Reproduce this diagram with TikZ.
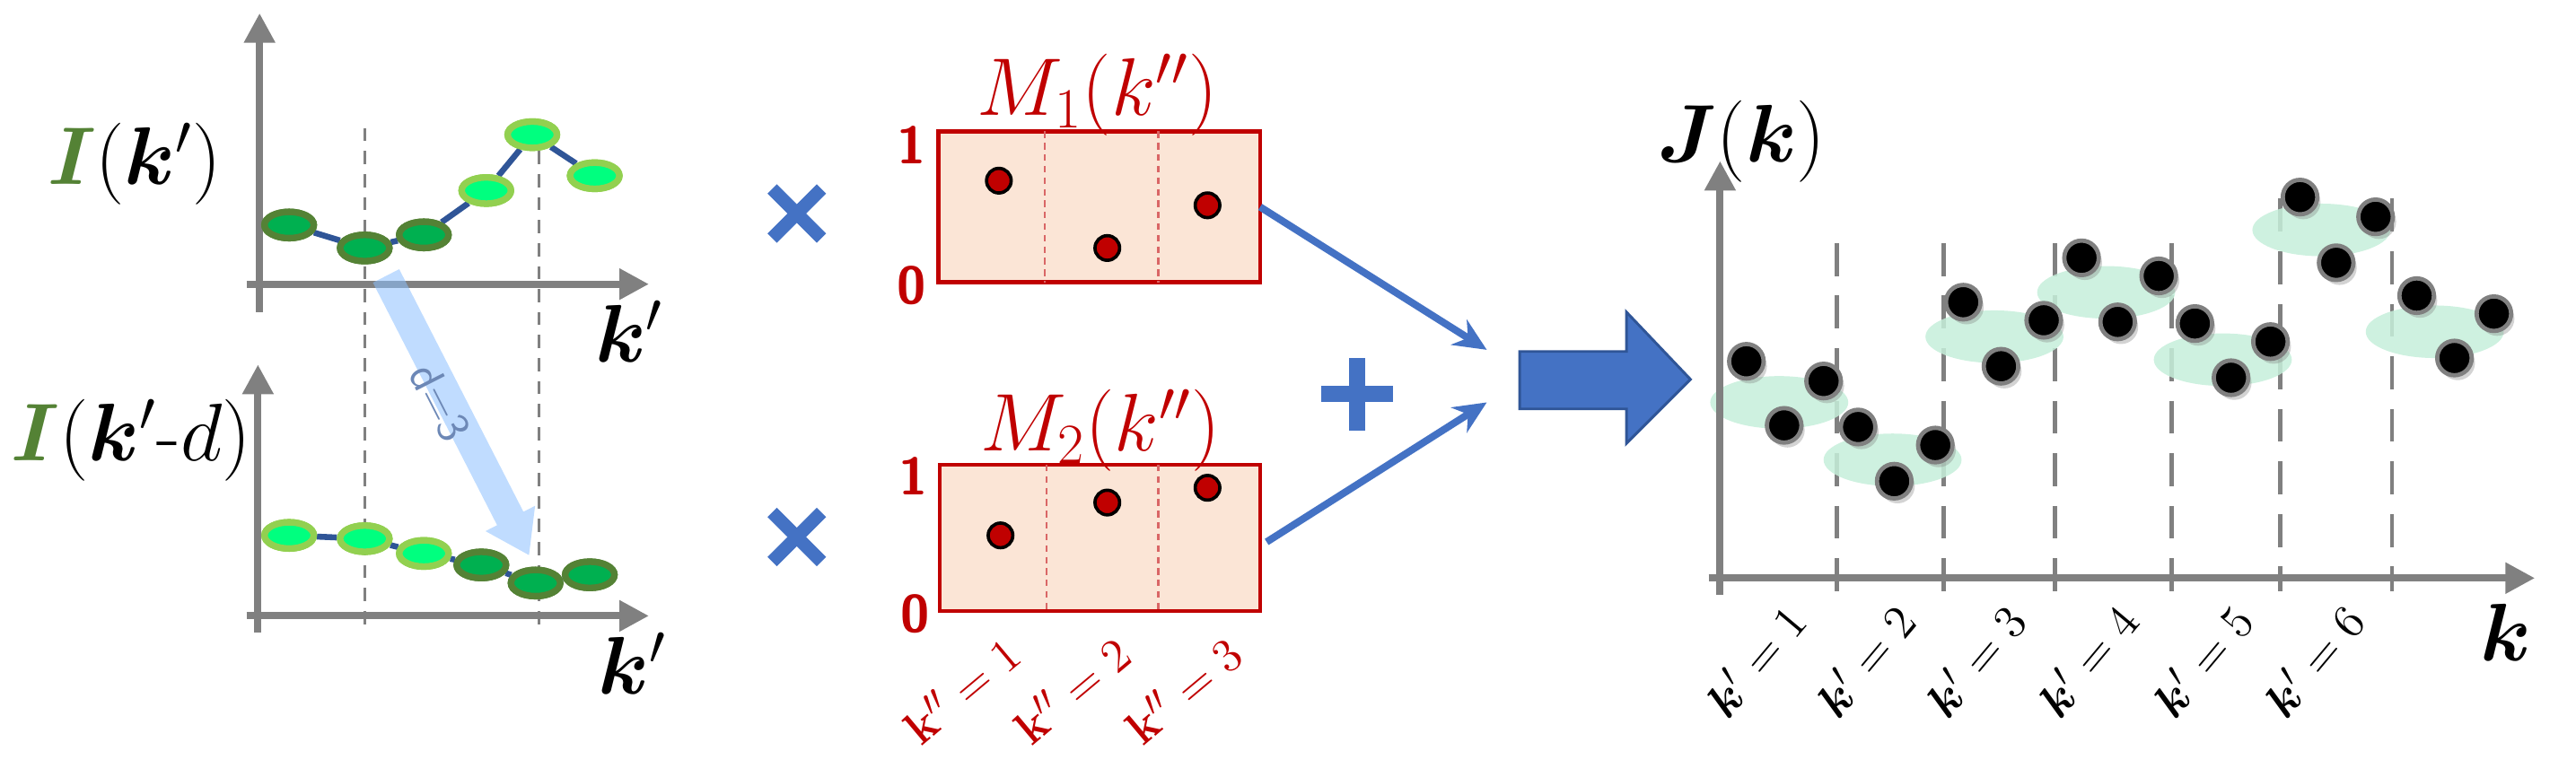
\documentclass[tikz,border=0pt]{standalone}
\usepackage{amsmath,bm}
\usetikzlibrary{arrows.meta,shadows,shapes.geometric}
\definecolor{dred}{HTML}{C00000}
\definecolor{boxf}{HTML}{FBE5D6}
\definecolor{dgf}{HTML}{00B050}
\definecolor{dgb}{HTML}{548235}
\definecolor{lgf}{HTML}{00FF7F}
\definecolor{lgb}{HTML}{92D050}
\definecolor{navy}{HTML}{2F5597}
\definecolor{mblue}{HTML}{4472C4}
\definecolor{axg}{HTML}{808080}
\definecolor{ellg}{HTML}{C6EFDA}
\tikzset{
 ax/.style={draw=axg,line width=2.2pt,-{Triangle[length=9pt,width=9pt]}},
 vd/.style={draw=axg,line width=0.7pt,dash pattern=on 4pt off 3pt},
 vdr/.style={draw=axg,line width=1.3pt,dash pattern=on 10pt off 6pt},
 dk/.style={ellipse,draw=dgb,fill=dgf,line width=2pt,minimum width=15pt,minimum height=8pt,inner sep=0pt},
 lt/.style={ellipse,draw=lgb,fill=lgf,line width=2pt,minimum width=15pt,minimum height=8pt,inner sep=0pt},
 ln/.style={draw=navy,line width=1.8pt},
 rd/.style={circle,draw=black,fill=dred,line width=1pt,minimum size=7.5pt,inner sep=0pt},
 bk/.style={circle,draw=axg,fill=black,line width=1.3pt,minimum size=10.5pt,inner sep=0pt,drop shadow={opacity=0.35,shadow xshift=1pt,shadow yshift=-1.5pt}},
 el/.style={ellipse,fill=ellg,opacity=0.85,inner sep=0pt,minimum width=42pt,minimum height=16pt},
 bl/.style={draw=mblue,line width=2.2pt,-{Stealth[length=10pt,width=9pt]}},
 rl/.style={text=dred,font=\fontsize{16}{16}\selectfont\bfseries\sffamily},
 kl/.style={font=\fontsize{15}{15}\selectfont,rotate=50,anchor=center,inner sep=0pt},
 big/.style={font=\fontsize{24}{24}\selectfont},
}
\begin{document}
\begin{tikzpicture}[x=0.5pt,y=-0.5pt]
\useasboundingbox (0,0) rectangle (1568,473);
% ---------- left top plot
\draw[ax] (158,190) -- (158,8);
\draw[ax] (150,173) -- (395,173);
\node[big] (il1) at (82,100) {$\textcolor{dgb}{\bm I}(\bm{k}')$};
\node[big] (kl1) at (383,202) {$\bm{k}'$};
\coordinate (v1t) at (222,78); \coordinate (v1b) at (222,382);
\coordinate (v2t) at (328,78); \coordinate (v2b) at (328,382);
\draw[vd] (v1t) -- (v1b);
\draw[vd] (v2t) -- (v2b);
\node[dk] (a1) at (176,137) {};
\node[dk] (a2) at (222,151) {};
\node[dk] (a3) at (258,143) {};
\node[lt] (a4) at (296,116) {};
\node[lt] (a5) at (324,82) {};
\node[lt] (a6) at (362,107) {};
\draw[ln] (a1) -- (a2) -- (a3) -- (a4) -- (a5) -- (a6);
\foreach \n/\s in {a1/dk,a2/dk,a3/dk,a4/lt,a5/lt,a6/lt}{\node[\s] at (\n) {};}
% ---------- left bottom plot
\draw[ax] (157,385) -- (157,222);
\draw[ax] (150,375) -- (395,375);
\node[big] (il2) at (80,268) {$\textcolor{dgb}{\bm I}(\bm{k}'\text{-}d)$};
\node[big] (kl2) at (385,404) {$\bm{k}'$};
\node[lt] (b1) at (176,326) {};
\node[lt] (b2) at (222,328) {};
\node[lt] (b3) at (258,337) {};
\node[dk] (b4) at (293,344) {};
\node[dk] (b5) at (326,355) {};
\node[dk] (b6) at (359,350) {};
\draw[ln] (b1) -- (b2) -- (b3) -- (b4) -- (b5) -- (b6);
\foreach \n/\s in {b1/lt,b2/lt,b3/lt,b4/dk,b5/dk,b6/dk}{\node[\s] at (\n) {};}
% shift arrow
\fill[blue!55!cyan!45,opacity=0.55] (243,163.9) -- (318.6,311.6) -- (325.7,308) -- (322,338) -- (295.5,323.4) -- (302.6,319.8) -- (227,172.1) -- cycle;
\node[rotate=-63,text=navy!70,font=\fontsize{14}{14}\selectfont\sffamily] (dl) at (268,245) {d=3};
% ---------- multiply signs
\foreach \y/\nm in {130/x1,327/x2}{
 \coordinate (\nm) at (485,\y);
 \draw[mblue,line width=4pt] ([shift={(-15,-15)}]\nm) -- ([shift={(15,15)}]\nm);
 \draw[mblue,line width=4pt] ([shift={(-15,15)}]\nm) -- ([shift={(15,-15)}]\nm);
}
% ---------- mask boxes
\draw[dred,fill=boxf,line width=1.3pt] (571,80) rectangle (767,172);
\draw[dred!60,line width=0.7pt,dash pattern=on 2pt off 1.5pt] (636,80) -- (636,172) (705,80) -- (705,172);
\node[text=dred,big] (t1) at (668,58) {$M_1(k'')$};
\node[rl] (o1) at (555,88) {1};
\node[rl] (z1) at (555,174) {0};
\node[rd] (r11) at (608,110) {};
\node[rd] (r12) at (674,151) {};
\node[rd] (r13) at (735,125) {};
\draw[dred,fill=boxf,line width=1.3pt] (572,283) rectangle (767,372);
\draw[dred!60,line width=0.7pt,dash pattern=on 2pt off 1.5pt] (637,283) -- (637,372) (705,283) -- (705,372);
\node[text=dred,big] (t2) at (670,262) {$M_2(k'')$};
\node[rl] (o2) at (556,290) {1};
\node[rl] (z2) at (557,374) {0};
\node[rd] (r21) at (609,326) {};
\node[rd] (r22) at (674,306) {};
\node[rd] (r23) at (735,297) {};
\foreach \x/\i in {585/1,652/2,720/3}{
 \node[kl,text=dred,rotate=-10] (q\i) at (\x,420) {$\mathbf{k}''=\i$};
}
% arrows to plus
\coordinate (mer) at (905,213); \coordinate (mer2) at (905,245);
\coordinate (s1) at (767,126); \coordinate (s2) at (771,330);
\draw[bl] (s1) -- (mer);
\draw[bl] (s2) -- (mer2);
\coordinate (pl) at (826,240);
\draw[mblue,line width=5pt] ([xshift=-11pt]pl) -- ([xshift=11pt]pl);
\draw[mblue,line width=5pt] ([yshift=-11pt]pl) -- ([yshift=11pt]pl);
% big arrow
\draw[fill=mblue,draw=navy,line width=0.8pt] (925,214) -- (990,214) -- (990,190) -- (1029,231) -- (990,270) -- (990,249) -- (925,249) -- cycle;
% ---------- right plot
\foreach \x/\t in {1118/148,1183/148,1251/148,1322/148,1388/121,1456/121}{
 \draw[vdr] (\x,\t) -- (\x,360);
}
\node[el] (e1) at (1083,245) {};
\node[el] (e2) at (1152,280) {};
\node[el] (e3) at (1214,205) {};
\node[el] (e4) at (1282,178) {};
\node[el] (e5) at (1353,219) {};
\node[el] (e6) at (1413,140) {};
\node[el] (e7) at (1482,202) {};
\draw[ax] (1047,362) -- (1047,98);
\draw[ax] (1040,352) -- (1543,352);
\node[big] (jl) at (1060,86) {$\bm{J}(\bm{k})$};
\node[big] (kr) at (1525,385) {$\bm{k}$};
\foreach \x/\y [count=\i] in {1063/220,1110/232,1086/259,1131/260,1178/271,1153/293,1195/184,1244/195,1218/223,1267/157,1314/168,1289/196,1336/197,1382/208,1358/230,1400/120,1446/132,1422/160,1471/180,1518/191,1494/218}{
 \node[bk] (p\i) at (\x,\y) {};
}
\foreach \x/\i in {1068/1,1135/2,1202/3,1270/4,1340/5,1408/6}{
 \node[kl] (kk\i) at (\x,402) {$\bm{k}'=\i$};
}
\end{tikzpicture}
\end{document}
